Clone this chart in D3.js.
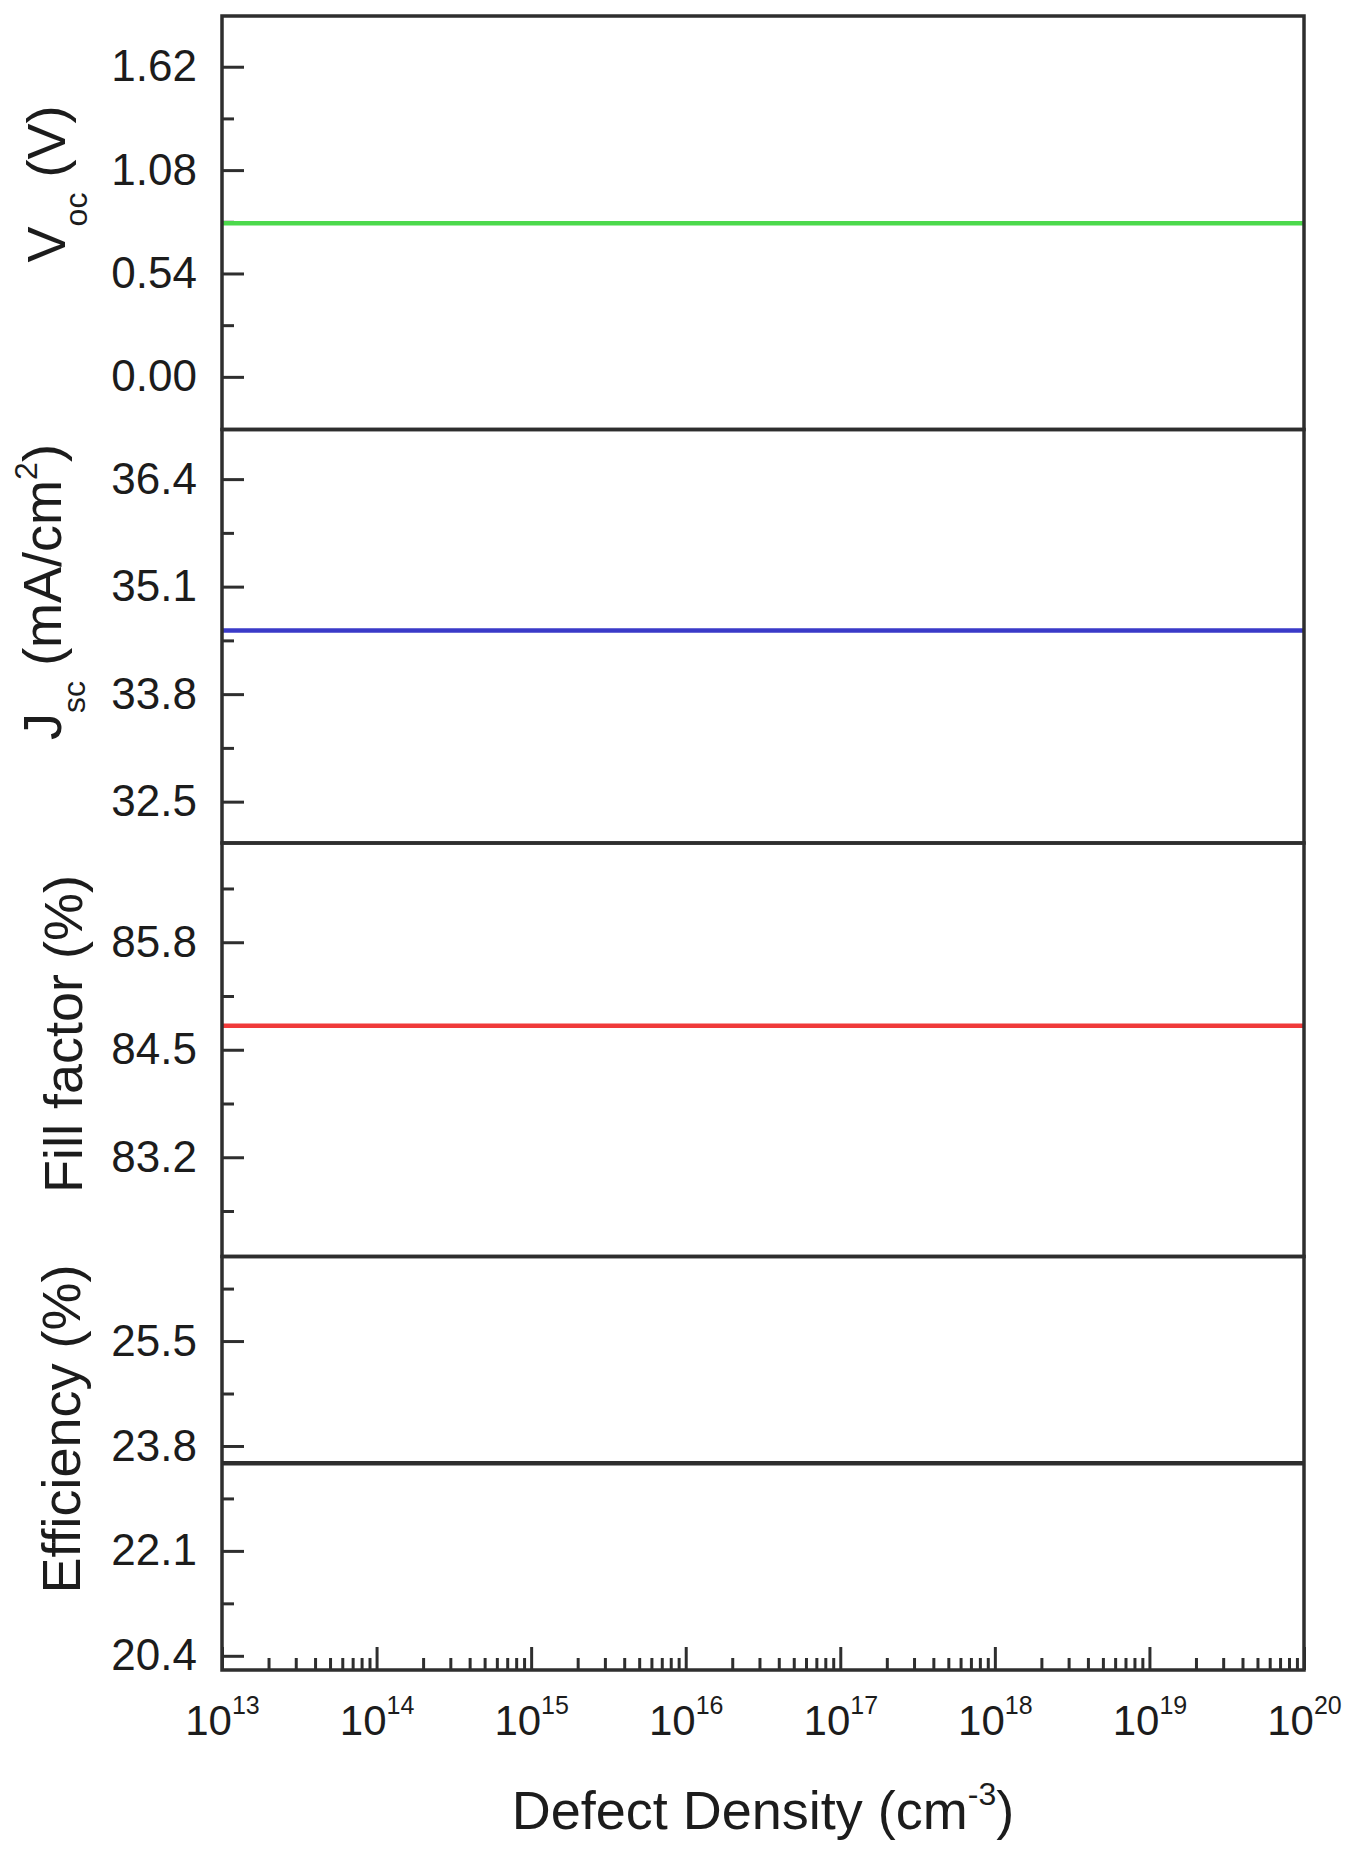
<!DOCTYPE html>
<html>
<head>
<meta charset="utf-8">
<script src="https://cdn.jsdelivr.net/npm/d3@7"></script>
<style>
  body { margin: 0; background: #fff; }
  text { font-family: "Liberation Sans", Arial, sans-serif; fill: #1c1c1c; }
</style>
</head>
<body>
<div id="chart"></div>
<script>
// values (flat lines over the whole density range)
const density = [1e13, 1e14, 1e15, 1e16, 1e17, 1e18, 1e19, 1e20];
const voc = [0.803, 0.803, 0.803, 0.803, 0.803, 0.803, 0.803, 0.803];
const jsc = [34.57, 34.57, 34.57, 34.57, 34.57, 34.57, 34.57, 34.57];
const ff  = [84.79, 84.79, 84.79, 84.79, 84.79, 84.79, 84.79, 84.79];
const eff = [23.52, 23.52, 23.52, 23.52, 23.52, 23.52, 23.52, 23.52];

const vocTicks = [0.00, 0.54, 1.08, 1.62];
const jscTicks = [32.5, 33.8, 35.1, 36.4];
const ffTicks  = [83.2, 84.5, 85.8];
const effTicks = [20.4, 22.1, 23.8, 25.5];
const xExponents = [13, 14, 15, 16, 17, 18, 19, 20];

const W = 1359, H = 1853;
const margin = {top: 16, right: 55, bottom: 183, left: 222};
const plotLeft = margin.left, plotRight = W - margin.right;
const plotTop = margin.top, plotBottom = H - margin.bottom;
const panelH = (plotBottom - plotTop) / 4;

const panels = [
  {values: voc, ticks: vocTicks, domain: [-0.275, 1.885], fmt: d3.format(".2f"), color: "#4cd94c", labelY: 184, labelX: 65},
  {values: jsc, ticks: jscTicks, domain: [32.0, 37.0], fmt: d3.format(".1f"), color: "#3a3ac8", labelY: 592, labelX: 61},
  {values: ff,  ticks: ffTicks,  domain: [82.0, 87.0], fmt: d3.format(".1f"), color: "#f03a3a", labelY: 1034, labelX: 82},
  {values: eff, ticks: effTicks, domain: [20.17, 26.87], fmt: d3.format(".1f"), color: "#2e2e2e", labelY: 1429, labelX: 80}
];

const svg = d3.select("#chart").append("svg")
    .attr("width", W)
    .attr("height", H);

svg.append("rect").attr("width", W).attr("height", H).attr("fill", "#fff");

const x = d3.scaleLog()
    .domain([1e13, 1e20])
    .range([plotLeft, plotRight]);

panels.forEach((p, i) => {
  const y0 = plotTop + i * panelH, y1 = y0 + panelH;
  const y = d3.scaleLinear().domain(p.domain).range([y1, y0]);

  // minor ticks halfway between the labelled ones
  const step = p.ticks[1] - p.ticks[0];
  const minor = [];
  for (let k = -1; k < p.ticks.length; k++) {
    const v = +(p.ticks[0] + (k + 0.5) * step).toFixed(3);
    if (y(v) > y0 + 3 && y(v) < y1 - 3) minor.push(v);
  }

  svg.append("g")
      .attr("transform", `translate(${plotLeft},0)`)
      .call(d3.axisLeft(y).tickValues(minor).tickSize(-12).tickFormat(""))
      .call(g => g.select(".domain").remove())
      .call(g => g.selectAll("line").attr("stroke", "#2e2e2e").attr("stroke-width", 3));

  svg.append("g")
      .attr("transform", `translate(${plotLeft},0)`)
      .call(d3.axisLeft(y).tickValues(p.ticks).tickSize(-22).tickPadding(25).tickFormat(p.fmt))
      .call(g => g.select(".domain").remove())
      .call(g => g.selectAll("line").attr("stroke", "#2e2e2e").attr("stroke-width", 3))
      .call(g => g.selectAll("text").attr("font-size", 44).attr("fill", "#1c1c1c")
          .attr("font-family", "'Liberation Sans', Arial, sans-serif"));

  const line = d3.line()
      .x((d, j) => x(density[j]))
      .y(d => y(d));

  svg.append("path")
      .datum(p.values)
      .attr("fill", "none")
      .attr("stroke", p.color)
      .attr("stroke-width", 4.5)
      .attr("d", line);

  svg.append("rect")
      .attr("x", plotLeft)
      .attr("y", y0)
      .attr("width", plotRight - plotLeft)
      .attr("height", panelH)
      .attr("fill", "none")
      .attr("stroke", "#2e2e2e")
      .attr("stroke-width", 3.5);
});

// y axis titles
const yTitle = (i) => svg.append("text")
    .attr("text-anchor", "middle")
    .attr("font-size", 54)
    .attr("transform", `translate(${panels[i].labelX},${panels[i].labelY}) rotate(-90)`);

const t0 = yTitle(0);
t0.append("tspan").text("V");
t0.append("tspan").attr("font-size", 32).attr("dy", 22).text("oc");
t0.append("tspan").attr("dy", -22).text(" (V)");

const t1 = yTitle(1);
t1.append("tspan").text("J");
t1.append("tspan").attr("font-size", 32).attr("dy", 24).text("sc");
t1.append("tspan").attr("dy", -24).text(" (mA/cm");
t1.append("tspan").attr("font-size", 32).attr("dy", -24).text("2");
t1.append("tspan").attr("dy", 24).text(")");

yTitle(2).text("Fill factor (%)");
yTitle(3).text("Efficiency (%)");

// bottom axis: minor log ticks then decades
const xMinor = [];
for (let e = 13; e < 20; e++) {
  for (let m = 2; m <= 9; m++) xMinor.push(m * Math.pow(10, e));
}

svg.append("g")
    .attr("transform", `translate(0,${plotBottom})`)
    .call(d3.axisBottom(x).tickValues(xMinor).tickSize(-12).tickFormat(""))
    .call(g => g.select(".domain").remove())
    .call(g => g.selectAll("line").attr("stroke", "#2e2e2e").attr("stroke-width", 3));

const xMajor = svg.append("g")
    .attr("transform", `translate(0,${plotBottom})`)
    .call(d3.axisBottom(x).tickValues(xExponents.map(e => Math.pow(10, e))).tickSize(-23).tickFormat(""))
    .call(g => g.select(".domain").remove())
    .call(g => g.selectAll("line").attr("stroke", "#2e2e2e").attr("stroke-width", 3));

xMajor.selectAll(".tick text")
    .attr("y", 65)
    .attr("dy", 0)
    .attr("font-size", 42)
    .attr("fill", "#1c1c1c")
    .attr("font-family", "'Liberation Sans', Arial, sans-serif")
    .each(function(d, i) {
      const t = d3.select(this);
      t.append("tspan").text("10");
      t.append("tspan").attr("font-size", 25).attr("dy", -21).text(xExponents[i]);
    });

const xt = svg.append("text")
    .attr("x", (plotLeft + plotRight) / 2)
    .attr("y", 1829)
    .attr("text-anchor", "middle")
    .attr("font-size", 54);
xt.append("tspan").text("Defect Density (cm");
xt.append("tspan").attr("font-size", 32).attr("dy", -24).text("-3");
xt.append("tspan").attr("dy", 24).text(")");
</script>
</body>
</html>
